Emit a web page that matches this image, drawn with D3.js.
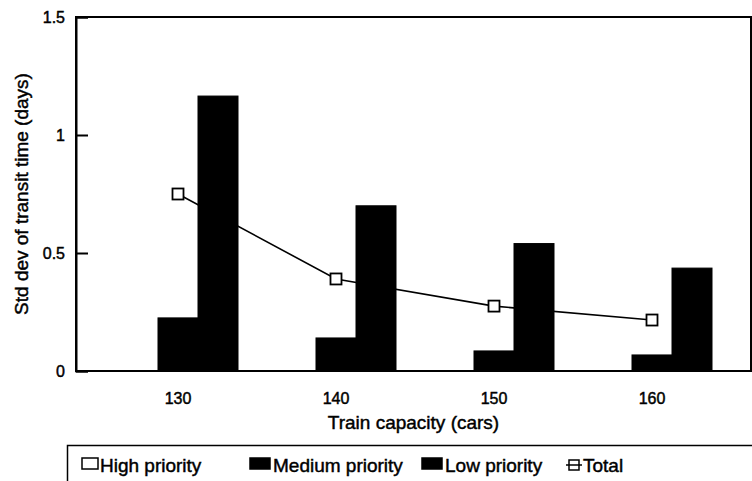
<!DOCTYPE html>
<html>
<head>
<meta charset="utf-8">
<script src="https://cdn.jsdelivr.net/npm/d3@7"></script>
<style>
  html, body { margin: 0; padding: 0; background: #fff; }
  svg { display: block; font-family: Arial, "Liberation Sans", sans-serif; }
  svg text { fill: #000; stroke: #000; stroke-width: 0.45px; }
</style>
</head>
<body>
<svg id="chart" width="752" height="481"></svg>
<script>
// ---- data ----
const capacities = ["130", "140", "150", "160"];
const seriesKeys = ["High priority", "Medium priority", "Low priority"];
const highPriority = [0, 0, 0, 0];
const mediumPriority = [0.225, 0.14, 0.085, 0.068];
const lowPriority = [1.165, 0.70, 0.54, 0.436];
const totalValues = [0.75, 0.39, 0.275, 0.216];
const yTicks = [0, 0.5, 1, 1.5];
const yTickLabels = ["0", "0.5", "1", "1.5"];
const legendLabels = ["High priority", "Medium priority", "Low priority", "Total"];

const seriesValues = [highPriority, mediumPriority, lowPriority];
const seriesFill = ["#fff", "#000", "#000"];

// ---- layout ----
const svg = d3.select("#chart");
const plot = { left: 76, right: 751, top: 17, bottom: 371 };

const y = d3.scaleLinear().domain([0, 1.5]).range([plot.bottom, plot.top]);
const x0 = d3.scaleBand().domain(capacities).range([99, 731])
  .paddingInner(0.2405).paddingOuter(0.12025);
const x1 = d3.scaleBand().domain(seriesKeys).range([0, x0.bandwidth()]);

// Total line (behind bars)
const line = d3.line()
  .x((d, i) => x0(capacities[i]) + x0.bandwidth() / 2)
  .y(d => y(d));
svg.append("path")
  .datum(totalValues)
  .attr("d", line)
  .attr("fill", "none")
  .attr("stroke", "#000")
  .attr("stroke-width", 1.6);

// Bars
const groups = svg.append("g").selectAll("g")
  .data(capacities)
  .join("g")
  .attr("transform", d => `translate(${x0(d)},0)`);

groups.selectAll("rect")
  .data((c, ci) => seriesKeys.map((k, si) => ({ key: k, value: seriesValues[si][ci], si })))
  .join("rect")
  .attr("x", d => x1(d.key))
  .attr("width", x1.bandwidth())
  .attr("y", d => y(d.value))
  .attr("height", d => y(0) - y(d.value))
  .attr("fill", d => seriesFill[d.si])
  .attr("stroke", "#000")
  .attr("stroke-width", 1);

// Total markers
svg.append("g").selectAll("rect")
  .data(totalValues)
  .join("rect")
  .attr("x", (d, i) => x0(capacities[i]) + x0.bandwidth() / 2 - 5.5)
  .attr("y", d => y(d) - 5.5)
  .attr("width", 11)
  .attr("height", 11)
  .attr("fill", "#fff")
  .attr("stroke", "#000")
  .attr("stroke-width", 1.8);

// Frame
svg.append("rect")
  .attr("x", plot.left).attr("y", plot.top)
  .attr("width", plot.right - plot.left).attr("height", plot.bottom - plot.top)
  .attr("fill", "none").attr("stroke", "#000").attr("stroke-width", 2);

// Y axis (ticks inward)
const yAxis = d3.axisRight(y).tickValues(yTicks).tickSize(12).tickFormat("");
const yg = svg.append("g").attr("transform", `translate(${plot.left},0)`).call(yAxis);
yg.select(".domain").attr("stroke", "#000").attr("stroke-width", 2);
yg.selectAll(".tick line").attr("stroke", "#000").attr("stroke-width", 2);

svg.append("g").selectAll("text")
  .data(yTicks)
  .join("text")
  .attr("x", 65)
  .attr("y", d => y(d))
  .attr("dy", "0.36em")
  .attr("text-anchor", "end")
  .attr("font-size", 16)
  .text((d, i) => yTickLabels[i]);

// X tick labels
svg.append("g").selectAll("text")
  .data(capacities)
  .join("text")
  .attr("x", d => x0(d) + x0.bandwidth() / 2)
  .attr("y", 404)
  .attr("text-anchor", "middle")
  .attr("font-size", 16)
  .text(d => d);

// Axis titles
svg.append("text")
  .attr("x", (plot.left + plot.right) / 2)
  .attr("y", 429)
  .attr("text-anchor", "middle")
  .attr("font-size", 19)
  .text("Train capacity (cars)");

svg.append("text")
  .attr("transform", `translate(28,${(plot.top + plot.bottom) / 2}) rotate(-90)`)
  .attr("text-anchor", "middle")
  .attr("font-size", 19)
  .text("Std dev of transit time (days)");

// Legend
svg.append("rect")
  .attr("x", 67.5).attr("y", 445.5)
  .attr("width", 720).attr("height", 60)
  .attr("fill", "none").attr("stroke", "#000").attr("stroke-width", 1.5);

const legendX = [82, 250, 422, 566];
const legendTextX = [100, 273, 445, 583];
const leg = svg.append("g");
legendLabels.forEach((lab, i) => {
  if (i < 3) {
    leg.append("rect")
      .attr("x", legendX[i]).attr("y", 458)
      .attr("width", i === 0 ? 16 : 20).attr("height", 11)
      .attr("fill", seriesFill[i]).attr("stroke", "#000").attr("stroke-width", 1.5);
  } else {
    leg.append("line")
      .attr("x1", legendX[i]).attr("x2", legendX[i] + 16)
      .attr("y1", 465).attr("y2", 465)
      .attr("stroke", "#000").attr("stroke-width", 1.5);
    leg.append("rect")
      .attr("x", legendX[i] + 3).attr("y", 460)
      .attr("width", 10).attr("height", 10)
      .attr("fill", "none").attr("stroke", "#000").attr("stroke-width", 1.5);
  }
  leg.append("text")
    .attr("x", legendTextX[i]).attr("y", 472)
    .attr("font-size", 19)
    .text(lab);
});
</script>
</body>
</html>
